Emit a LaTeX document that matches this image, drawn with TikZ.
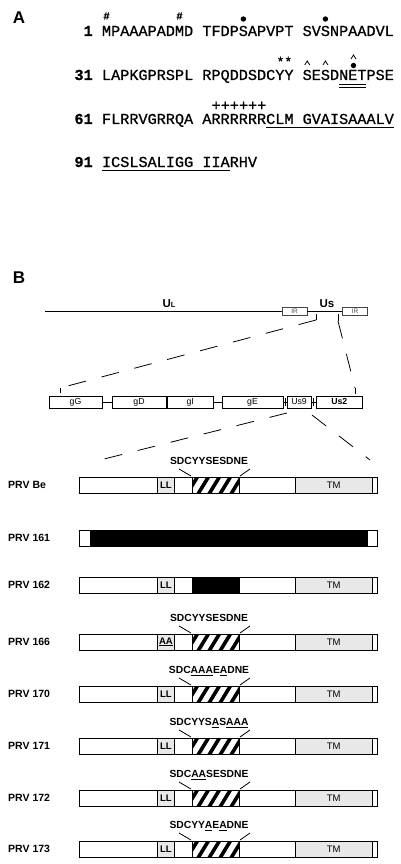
\documentclass[tikz,border=0pt]{standalone}
\usepackage{fontspec}
\setmainfont{Liberation Sans}
\newfontfamily\seqfont[FakeBold=0.8]{Liberation Mono}
\usetikzlibrary{calc}
\definecolor{ltgray}{RGB}{232,232,232}
\definecolor{irgray}{RGB}{70,70,70}
\newcommand\cw{9.12}
\newcommand\prvrow[5]{%
  \node[rowlab] (#1-lab) at (8,#2) {#3};
  \node[seg, minimum width=78.3pt] (#1-a) at (79,#2) {};
  \node[seg, fill=ltgray, font=\bfseries\fontsize{9.5}{9.5}\selectfont, minimum width=17.2pt] (#1-ll) at (157.3,#2) {#4};
  \node[seg, minimum width=17.5pt] (#1-b) at (174.5,#2) {};
  \node[seg, minimum width=47pt, #5] (#1-h) at (192,#2) {};
  \node[seg, minimum width=56pt] (#1-c) at (239,#2) {};
  \node[seg, fill=ltgray, minimum width=77.3pt] (#1-tm) at (295,#2) {TM};
  \node[seg, minimum width=4.7pt] (#1-e) at (372.3,#2) {};
}
\newcommand\hatchit[1]{%
  \begin{scope}
    \clip (#1.south west) rectangle (#1.north east);
    \foreach \k in {0,...,5}
      \draw[stripe] ($(#1.south west)+(\k*11-5,1)$) -- ++(11,-18);
  \end{scope}
  \draw[segline] (#1.south west) rectangle (#1.north east);
}
\newcommand\seqlab[3]{%
  \node[seqlab] (#1-s) at (209,#2-20.5) {#3};
  \draw[segline] ([xshift=-1pt,yshift=1pt]#1-h.north west) -- ++(-12,-7);
  \draw[segline] ([xshift=1pt,yshift=1pt]#1-h.north east) -- ++(10,-7);
}
\begin{document}
\begin{tikzpicture}[x=1pt,y=-1pt,
  seq/.style={font=\seqfont\fontsize{15.2}{15.2}\selectfont, anchor=base west, inner sep=0pt, outer sep=0pt},
  num/.style={font=\seqfont\bfseries\fontsize{15.2}{15.2}\selectfont, anchor=base east, inner sep=0pt},
  mk/.style={font=\seqfont\fontsize{15.2}{15.2}\selectfont, inner sep=0pt},
  starmk/.style={font=\seqfont\fontsize{13}{13}\selectfont, inner sep=0pt},
  hashmk/.style={font=\seqfont\bfseries\fontsize{10.5}{10.5}\selectfont, inner sep=0pt},
  dot/.style={circle, fill=black, inner sep=0pt, minimum size=5.4pt},
  caret/.style={line width=0.8pt},
  uline/.style={line width=0.8pt},
  panel/.style={font=\bfseries\fontsize{17}{17}\selectfont, inner sep=0pt},
  rowlab/.style={font=\bfseries\fontsize{10.5}{10.5}\selectfont, anchor=west, inner sep=0pt},
  seqlab/.style={font=\bfseries\fontsize{10.3}{10.3}\selectfont, anchor=base, inner sep=0pt},
  seg/.style={draw, line width=0.8pt, minimum height=16pt, inner sep=0pt, outer sep=0pt, anchor=west, font=\fontsize{9.5}{9.5}\selectfont},
  segline/.style={line width=0.8pt},
  stripe/.style={line width=3.6pt},
  blk/.style={fill=black},
  gene/.style={draw, line width=0.8pt, minimum height=12pt, inner sep=0pt, outer sep=0pt, anchor=west, font=\fontsize{8.7}{8.7}\selectfont},
  irbox/.style={draw=irgray, line width=0.8pt, minimum height=8pt, minimum width=25pt, inner sep=0pt, text=irgray, font=\fontsize{6.5}{6.5}\selectfont},
  gline/.style={line width=1pt},
  dashline/.style={line width=0.8pt, dash pattern=on 18pt off 16pt},
]
\useasboundingbox (0,0) rectangle (400,864);

% ---------------- Panel A ----------------
\node[panel] (A) at (19,18) {A};

\node[num] (n1) at (92.9,36) {1};
\node[seq] (s1a) at (102,36) {MPAAAPADMD};
\node[seq] (s1b) at ({102+11*\cw},36) {TFDPSAPVPT};
\node[seq] (s1c) at ({102+22*\cw},36) {SVSNPAADVL};
\node[hashmk] (h1) at ({102+0.5*\cw},16) {\#};
\node[hashmk] (h2) at ({102+8.5*\cw},16) {\#};
\node[dot] (d1) at ({102+15.5*\cw},19) {};
\node[dot] (d2) at ({102+24.5*\cw},19) {};

\node[num] (n2) at (92.9,80) {31};
\node[seq] (s2a) at (102,80) {LAPKGPRSPL};
\node[seq] (s2b) at ({102+11*\cw},80) {RPQDDSDCYY};
\node[seq] (s2c) at ({102+22*\cw},80) {SESDNETPSE};
\node[starmk] (st) at ({102+20*\cw},61.5) {**};
\draw[caret] ({102+22.5*\cw-2.5},65) -- ++(2.5,-4) -- ++(2.5,4);
\draw[caret] ({102+24.5*\cw-2.5},65) -- ++(2.5,-4) -- ++(2.5,4);
\draw[caret] (351,59) -- ++(2.5,-4) -- ++(2.5,4);
\node[dot] (d3) at (353.5,65.5) {};
\draw[uline] ({102+26*\cw},84.5) -- ({102+29*\cw},84.5);
\draw[uline] ({102+26*\cw},87.5) -- ({102+29*\cw},87.5);

\node[num] (n3) at (92.9,124) {61};
\node[seq] (s3a) at (102,124) {FLRRVGRRQA};
\node[seq] (s3b) at ({102+11*\cw},124) {ARRRRRRCLM};
\node[seq] (s3c) at ({102+22*\cw},124) {GVAISAAALV};
\node[mk, anchor=west] (pl) at ({102+12*\cw},106) {++++++};
\draw[uline] ({102+18*\cw},127.5) -- ({102+32*\cw},127.5);

\node[num] (n4) at (92.9,167) {91};
\node[seq] (s4a) at (102,167) {ICSLSALIGG};
\node[seq] (s4b) at ({102+11*\cw},167) {IIARHV};
\draw[uline] (102,170.5) -- ({102+14*\cw},170.5);

% ---------------- Panel B ----------------
\node[panel] (B) at (19,278) {B};

% genome
\coordinate (g0) at (45,311);
\node[irbox] (ir1) at (294.5,311) {IR};
\node[irbox] (ir2) at (355,311) {IR};
\draw[gline] (g0) -- (ir1.west);
\draw[gline] (ir1.east) -- (ir2.west);
\node[font=\bfseries\fontsize{11.5}{11.5}\selectfont, anchor=base, inner sep=0pt] (UL) at (169,307) {U{\fontsize{7.5}{7.5}\selectfont L}};
\node[font=\bfseries\fontsize{11.5}{11.5}\selectfont, anchor=base, inner sep=0pt] (Us) at (327,307) {Us};

\coordinate (t1a) at (316,314);
\coordinate (t1b) at (316,320);
\coordinate (t2a) at (338,314);
\coordinate (t2b) at (338,321);
\coordinate (b1a) at (60,388);
\coordinate (b1b) at (60,393);
\coordinate (b2a) at (355,388);
\coordinate (b2b) at (355,394);
\draw[segline] (t1a) -- (t1b);
\draw[segline] (t2a) -- (t2b);
\draw[segline] (b1a) -- (b1b);
\draw[segline] (b2a) -- (b2b);
\draw[dashline] (t1b) -- (b1a);
\draw[dashline] (t2b) -- (b2a);

% gene row
\node[gene, minimum width=53pt] (gG) at (49,402) {gG};
\node[gene, minimum width=54pt] (gD) at (112,402) {gD};
\node[gene, minimum width=45.5pt] (gI) at (167.5,402) {gI};
\node[gene, minimum width=61pt] (gE) at (222,402) {gE};
\node[gene, minimum width=24pt] (Us9) at (287,402) {Us9};
\node[gene, minimum width=45.3pt, font=\bfseries\fontsize{8.7}{8.7}\selectfont] (Us2) at (316.7,402) {Us2};
\draw[segline] (gG.east) -- (gD.west);
\draw[segline] (gD.east) -- (gI.west);
\draw[segline] (gI.east) -- (gE.west);
\draw[segline] (gE.east) -- (Us9.west);
\draw[segline] (Us9.east) -- (Us2.west);
\draw[segline] (285,398) -- (285,406);
\draw[segline] (313,398) -- (313,406);

\coordinate (u1) at (287,413);
\coordinate (u2) at (100,460);
\coordinate (u3) at (312,415);
\coordinate (u4) at (370,460);
\draw[dashline] (u1) -- (u2);
\draw[dashline] (u3) -- (u4);

% constructs
\prvrow{pbe}{485}{PRV Be}{LL}{}
\hatchit{pbe-h}
\seqlab{pbe}{485}{SDCYYSESDNE}

\node[rowlab] (p161-lab) at (8,538) {PRV 161};
\node[seg, minimum width=11pt] (p161-a) at (79,538) {};
\node[seg, blk, minimum width=277pt] (p161-b) at (90,538) {};
\node[seg, minimum width=10pt] (p161-c) at (367,538) {};

\prvrow{p162}{585}{PRV 162}{LL}{blk}

\prvrow{p166}{642}{PRV 166}{\underline{AA}}{}
\hatchit{p166-h}
\seqlab{p166}{642}{SDCYYSESDNE}

\prvrow{p170}{694}{PRV 170}{LL}{}
\hatchit{p170-h}
\seqlab{p170}{694}{SDC\underline{AAA}E\underline{A}DNE}

\prvrow{p171}{746}{PRV 171}{LL}{}
\hatchit{p171-h}
\seqlab{p171}{746}{SDCYYS\underline{A}S\underline{AAA}}

\prvrow{p172}{798}{PRV 172}{LL}{}
\hatchit{p172-h}
\seqlab{p172}{798}{SDC\underline{AA}SESDNE}

\prvrow{p173}{849}{PRV 173}{LL}{}
\hatchit{p173-h}
\seqlab{p173}{849}{SDCYY\underline{A}E\underline{A}DNE}
\end{tikzpicture}
\end{document}
